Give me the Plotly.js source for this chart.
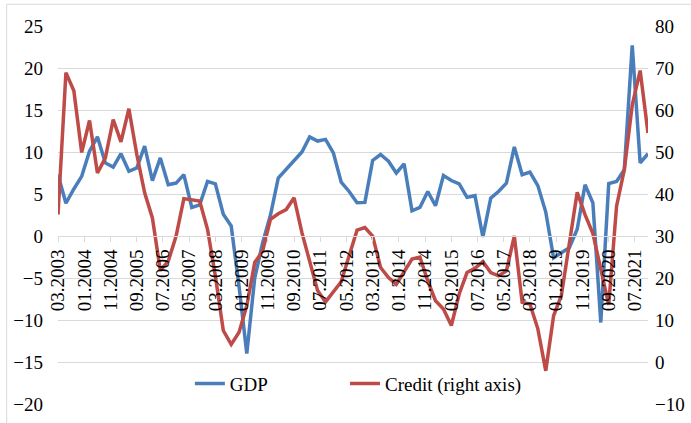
<!DOCTYPE html>
<html>
<head>
<meta charset="utf-8">
<script src="https://cdn.plot.ly/plotly-3.0.1.min.js"></script>
<style>
  html, body { margin: 0; padding: 0; background: #ffffff; }
  #chart { width: 691px; height: 423px; }
</style>
</head>
<body>
<div id="chart"></div>
<script>
// Quarter-end months (x categories)
const quarters = [
  '2003-03','2003-06','2003-09','2003-12',
  '2004-03','2004-06','2004-09','2004-12',
  '2005-03','2005-06','2005-09','2005-12',
  '2006-03','2006-06','2006-09','2006-12',
  '2007-03','2007-06','2007-09','2007-12',
  '2008-03','2008-06','2008-09','2008-12',
  '2009-03','2009-06','2009-09','2009-12',
  '2010-03','2010-06','2010-09','2010-12',
  '2011-03','2011-06','2011-09','2011-12',
  '2012-03','2012-06','2012-09','2012-12',
  '2013-03','2013-06','2013-09','2013-12',
  '2014-03','2014-06','2014-09','2014-12',
  '2015-03','2015-06','2015-09','2015-12',
  '2016-03','2016-06','2016-09','2016-12',
  '2017-03','2017-06','2017-09','2017-12',
  '2018-03','2018-06','2018-09','2018-12',
  '2019-03','2019-06','2019-09','2019-12',
  '2020-03','2020-06','2020-09','2020-12',
  '2021-03','2021-06','2021-09','2021-12'
];

// GDP (left axis)
const gdp = [
  7.3, 3.9, 5.6, 7.1,
  10.1, 11.8, 8.7, 8.2,
  9.8, 7.7, 8.1, 10.7,
  6.6, 9.3, 6.1, 6.3,
  7.3, 3.4, 3.7, 6.5,
  6.2, 2.6, 1.2, -6.0,
  -14.0, -5.0, -0.8, 2.5,
  6.9, 7.9, 8.9, 10.0,
  11.8, 11.3, 11.5, 9.9,
  6.4, 5.3, 3.95, 4.0,
  9.0, 9.7, 8.9, 7.5,
  8.6, 3.0, 3.4, 5.3,
  3.6, 7.2, 6.6, 6.2,
  4.6, 4.8, -0.1, 4.5,
  5.3, 6.3, 10.6, 7.3,
  7.6, 6.0, 2.85, -2.6,
  -2.0, -1.4, 0.8, 6.1,
  3.95, -10.3, 6.25, 6.5,
  7.9, 22.7, 8.7, 9.8
];

// Credit (right axis)
const credit = [
  35.1, 68.9, 64.6, 49.9,
  57.5, 45.0, 48.6, 57.7,
  52.4, 60.3, 49.4, 40.3,
  34.3, 21.8, 24.0, 30.0,
  38.9, 38.7, 38.3, 31.6,
  20.5, 7.5, 4.2, 7.1,
  13.4, 23.7, 26.4, 34.0,
  35.3, 36.3, 39.1, 30.8,
  23.7, 17.0, 14.3, 16.6,
  19.1, 25.3, 31.4, 32.0,
  30.0, 22.5, 20.1, 18.5,
  21.3, 24.5, 25.0, 19.3,
  14.6, 12.6, 8.7, 16.2,
  21.3, 22.3, 23.9, 21.3,
  20.5, 21.7, 30.0, 14.2,
  13.8, 7.9, -2.1, 11.0,
  15.8, 28.4, 40.4, 35.1,
  30.6, 22.1, 13.6, 37.1,
  45.8, 61.2, 69.4, 54.5
];

// x tick labels (every 10 months)
const tickLabels = [
  '03.2003','01.2004','11.2004','09.2005','07.2006','05.2007','03.2008',
  '01.2009','11.2009','09.2010','07.2011','05.2012','03.2013','01.2014',
  '11.2014','09.2015','07.2016','05.2017','03.2018','01.2019','11.2019',
  '09.2020','07.2021'
];

const toDate = s => s + '-01';
const xDates = quarters.map(toDate);
const tickVals = tickLabels.map(t => { const [m, y] = t.split('.'); return y + '-' + m + '-01'; });

const FONT = '"Liberation Serif", "Times New Roman", Times, serif';
const BLUE = '#4A7EBB';
const RED = '#BE4B48';
const GRID = '#d9d9d9';

const traces = [
  {
    x: xDates, y: gdp, name: 'GDP', type: 'scatter', mode: 'lines',
    line: { color: BLUE, width: 3.5 }, yaxis: 'y', legend: 'legend'
  },
  {
    x: xDates, y: credit, name: 'Credit (right axis)', type: 'scatter', mode: 'lines',
    line: { color: RED, width: 3.5 }, yaxis: 'y2', legend: 'legend2'
  }
];

const legendBase = {
  orientation: 'h', y: 0.054, xanchor: 'left', yanchor: 'middle',
  font: { family: FONT, size: 19, color: '#000000' },
  bgcolor: 'rgba(0,0,0,0)', borderwidth: 0
};

const layout = {
  width: 691, height: 423,
  margin: { l: 58, r: 43, t: 26, b: 19, pad: 0 },
  paper_bgcolor: '#ffffff', plot_bgcolor: '#ffffff',
  font: { family: FONT, size: 19, color: '#000000' },
  showlegend: true,
  legend: Object.assign({}, legendBase, { x: 0.2235 }),
  legend2: Object.assign({}, legendBase, { x: 0.4864 }),
  xaxis: {
    type: 'date',
    range: ['2003-03-01', '2021-12-01'],
    tickvals: tickVals, ticktext: tickLabels,
    tickangle: -90,
    anchor: 'free', position: 20 / 45,
    showgrid: false, zeroline: false,
    showline: true, linecolor: GRID, linewidth: 1,
    ticks: 'outside', ticklen: 5, tickcolor: GRID, tickwidth: 1,
    tickfont: { family: FONT, size: 19, color: '#000000' },
    fixedrange: true
  },
  yaxis: {
    range: [-20, 25], dtick: 5, tick0: 0,
    showgrid: true, gridcolor: GRID, gridwidth: 1,
    zeroline: false, showline: false, ticks: '',
    ticklabelstandoff: 14,
    tickfont: { family: FONT, size: 19, color: '#000000' },
    fixedrange: true
  },
  yaxis2: {
    range: [-10, 80], dtick: 10, tick0: 0,
    overlaying: 'y', side: 'right',
    showgrid: false, zeroline: false, showline: false, ticks: '',
    ticklabelstandoff: 6,
    tickfont: { family: FONT, size: 19, color: '#000000' },
    fixedrange: true
  },
  shapes: [
    { type: 'line', xref: 'paper', yref: 'paper', x0: -0.087, x1: -0.087, y0: -0.1, y1: 1.0575,
      line: { color: GRID, width: 1 } },
    { type: 'line', xref: 'paper', yref: 'paper', x0: -0.087, x1: 1.2, y0: 1.0575, y1: 1.0575,
      line: { color: GRID, width: 1 } }
  ]
};

Plotly.newPlot('chart', traces, layout, { staticPlot: true, displayModeBar: false });
</script>
</body>
</html>
